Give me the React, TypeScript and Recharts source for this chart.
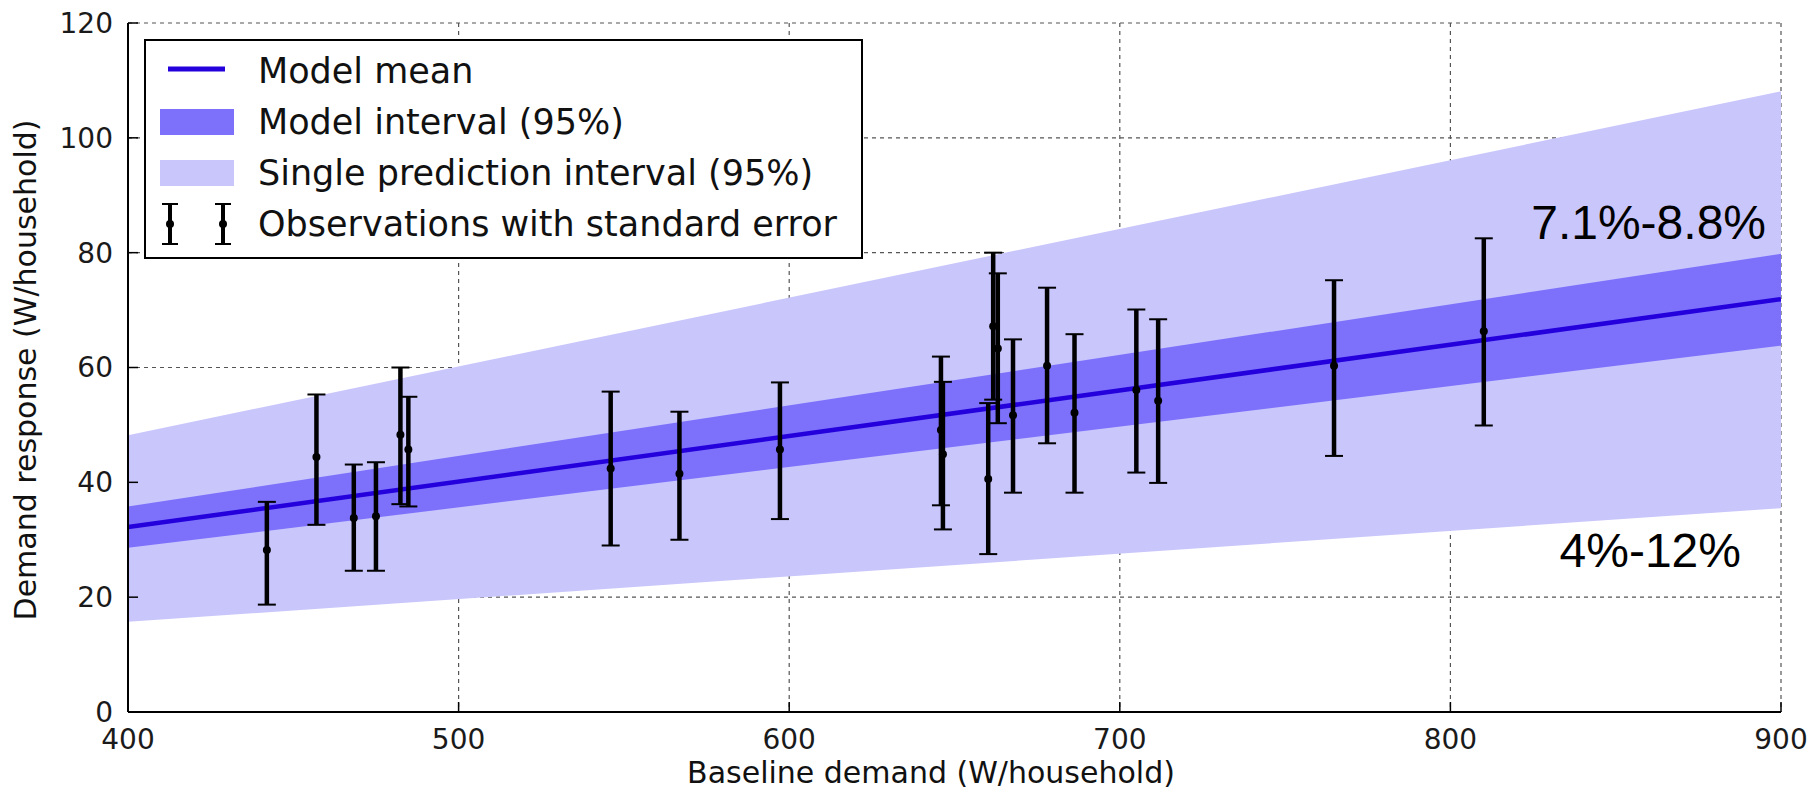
import React from 'react';
import {
  Area,
  CartesianGrid,
  ComposedChart,
  ErrorBar,
  Line,
  Scatter,
  XAxis,
  YAxis,
} from 'recharts';

// regression bands, straight lines through the two ends of the x range
const bandX = [400, 900];
const meanY = [32.2, 71.9];
const modelLow = [28.6, 63.8];
const modelHigh = [35.8, 79.8];
const predLow = [15.7, 35.5];
const predHigh = [48.2, 108.1];

// observations (value, lower and upper end of the error bar)
const obsX = [442, 457, 468.3, 475, 482.4, 484.8, 546, 566.8, 597.2, 645.9, 646.5, 660.2, 661.7, 663.1, 667.7, 678, 686.3, 705, 711.6, 764.8, 810.1];
const obsY = [28.2, 44.4, 33.8, 34.1, 48.3, 45.7, 42.4, 41.5, 45.7, 49.1, 44.9, 40.6, 67.2, 63.3, 51.7, 60.3, 52.1, 56.1, 54.2, 60.3, 66.3];
const obsLow = [18.7, 32.6, 24.6, 24.6, 36.2, 35.8, 29, 30, 33.6, 36, 31.8, 27.5, 54.4, 50.3, 38.2, 46.8, 38.2, 41.7, 39.9, 44.6, 49.9];
const obsHigh = [36.6, 55.3, 43.1, 43.5, 60, 54.9, 55.8, 52.3, 57.4, 61.9, 57.5, 53.8, 80, 76.4, 64.9, 73.9, 65.8, 70.1, 68.4, 75.2, 82.5];

const xTicks = [400, 500, 600, 700, 800, 900];
const yTicks = [0, 20, 40, 60, 80, 100, 120];

const legendNames = [
  'Model mean',
  'Model interval (95%)',
  'Single prediction interval (95%)',
  'Observations with standard error',
];
const xLabel = 'Baseline demand (W/household)';
const yLabel = 'Demand response (W/household)';
const modelSlopeText = '7.1%-8.8%';
const predSlopeText = '4%-12%';

const LIGHT = '#c9c6fc';
const DARK = '#7d70fb';
const MEAN = '#2300dc';
const FONT = '"DejaVu Sans", sans-serif';

const bandData = bandX.map((x, i) => ({
  x,
  mean: meanY[i],
  model: [modelLow[i], modelHigh[i]],
  pred: [predLow[i], predHigh[i]],
}));

const obsData = obsX.map((x, i) => ({
  x,
  y: obsY[i],
  err: [obsY[i] - obsLow[i], obsHigh[i] - obsY[i]],
}));

const LegendIcon = ({ idx }: { idx: number }) => {
  if (idx === 0) {
    return (
      <svg width={90} height={40}>
        <line x1={22} x2={79} y1={18} y2={18} stroke={MEAN} strokeWidth={5} />
      </svg>
    );
  }
  if (idx === 1 || idx === 2) {
    return (
      <svg width={90} height={40}>
        <rect x={14} y={7} width={74} height={26} fill={idx === 1 ? DARK : LIGHT} />
      </svg>
    );
  }
  return (
    <svg width={90} height={46}>
      {[24, 77].map((cx) => (
        <g key={cx}>
          <line x1={cx} x2={cx} y1={3} y2={43} stroke="#000" strokeWidth={4} />
          <line x1={cx - 8} x2={cx + 8} y1={3} y2={3} stroke="#000" strokeWidth={2} />
          <line x1={cx - 8} x2={cx + 8} y1={43} y2={43} stroke="#000" strokeWidth={2} />
          <circle cx={cx} cy={23} r={4} fill="#000" />
        </g>
      ))}
    </svg>
  );
};

// legend box drawn over the plot, like matplotlib's upper-left legend
const LegendBox = () => (
  <div
    style={{
      position: 'absolute',
      left: 144,
      top: 39,
      width: 715,
      height: 216,
      border: '2px solid #000',
      background: '#fff',
      fontFamily: FONT,
      fontSize: 35,
      color: '#111',
    }}
  >
    {legendNames.map((name, i) => (
      <div
        key={name}
        style={{
          position: 'absolute',
          left: 0,
          top: 6 + i * 51,
          height: 48,
          display: 'flex',
          alignItems: 'center',
          whiteSpace: 'nowrap',
        }}
      >
        <div style={{ width: 112, display: 'flex' }}>
          <LegendIcon idx={i} />
        </div>
        <span>{name}</span>
      </div>
    ))}
  </div>
);

const Dot = (props: any) => <circle cx={props.cx} cy={props.cy} r={4} fill="#000" />;

export default function App() {
  return (
    <div style={{ position: 'absolute', left: 0, top: 0, width: 1819, height: 796, background: '#fff' }}>
      <ComposedChart
        width={1819}
        height={796}
        data={bandData}
        margin={{ top: 23, right: 38, bottom: 0, left: 28 }}
      >
        <XAxis
          dataKey="x"
          type="number"
          domain={[400, 900]}
          ticks={xTicks}
          height={84}
          allowDataOverflow
          axisLine={{ stroke: '#000', strokeWidth: 2 }}
          tickLine={{ stroke: '#000', strokeWidth: 1.5 }}
          tickSize={-10}
          tickMargin={27}
          tick={{ fill: '#1a1a1a', fontSize: 28, fontFamily: FONT }}
        />
        <XAxis
          xAxisId="top"
          orientation="top"
          dataKey="x"
          type="number"
          domain={[400, 900]}
          ticks={xTicks}
          height={0}
          allowDataOverflow
          axisLine={{ stroke: '#000', strokeWidth: 2 }}
          tickLine={{ stroke: '#000', strokeWidth: 1.5 }}
          tickSize={-10}
          tick={false}
        />
        <YAxis
          type="number"
          domain={[0, 120]}
          ticks={yTicks}
          width={100}
          allowDataOverflow
          axisLine={{ stroke: '#000', strokeWidth: 2 }}
          tickLine={{ stroke: '#000', strokeWidth: 1.5 }}
          tickSize={-10}
          tickMargin={25}
          tick={{ fill: '#1a1a1a', fontSize: 28, fontFamily: FONT }}
        />
        <YAxis
          yAxisId="right"
          orientation="right"
          type="number"
          domain={[0, 120]}
          ticks={yTicks}
          width={0}
          allowDataOverflow
          axisLine={{ stroke: '#000', strokeWidth: 2 }}
          tickLine={{ stroke: '#000', strokeWidth: 1.5 }}
          tickSize={-10}
          tick={false}
        />
        <Area
          dataKey="pred"
          type="linear"
          fill={LIGHT}
          fillOpacity={1}
          stroke="none"
          isAnimationActive={false}
        />
        <Area
          dataKey="model"
          type="linear"
          fill={DARK}
          fillOpacity={1}
          stroke="none"
          isAnimationActive={false}
        />
        <CartesianGrid stroke="#555" strokeWidth={1.2} strokeDasharray="4 4" />
        <Line
          dataKey="mean"
          type="linear"
          stroke={MEAN}
          strokeWidth={4.5}
          dot={false}
          isAnimationActive={false}
        />
        <Scatter data={obsData} dataKey="y" shape={Dot} isAnimationActive={false}>
          {/* thin caps, then a thicker stem on top */}
          <ErrorBar dataKey="err" direction="y" width={9} stroke="#000" strokeWidth={2} isAnimationActive={false} />
          <ErrorBar dataKey="err" direction="y" width={0} stroke="#000" strokeWidth={4.5} isAnimationActive={false} />
        </Scatter>
      </ComposedChart>
      <LegendBox />
      <svg
        width={1819}
        height={796}
        style={{ position: 'absolute', left: 0, top: 0, pointerEvents: 'none' }}
      >
        <text x={931} y={783} textAnchor="middle" fontFamily={FONT} fontSize={30} fill="#111">
          {xLabel}
        </text>
        <text
          transform="translate(36 370) rotate(-90)"
          textAnchor="middle"
          fontFamily={FONT}
          fontSize={30}
          fill="#111"
        >
          {yLabel}
        </text>
        <text x={1766} y={239} textAnchor="end" fontFamily="'Liberation Sans', Arial, sans-serif" fontSize={48} fill="#000">
          {modelSlopeText}
        </text>
        <text x={1741} y={567} textAnchor="end" fontFamily="'Liberation Sans', Arial, sans-serif" fontSize={48} fill="#000">
          {predSlopeText}
        </text>
      </svg>
    </div>
  );
}
